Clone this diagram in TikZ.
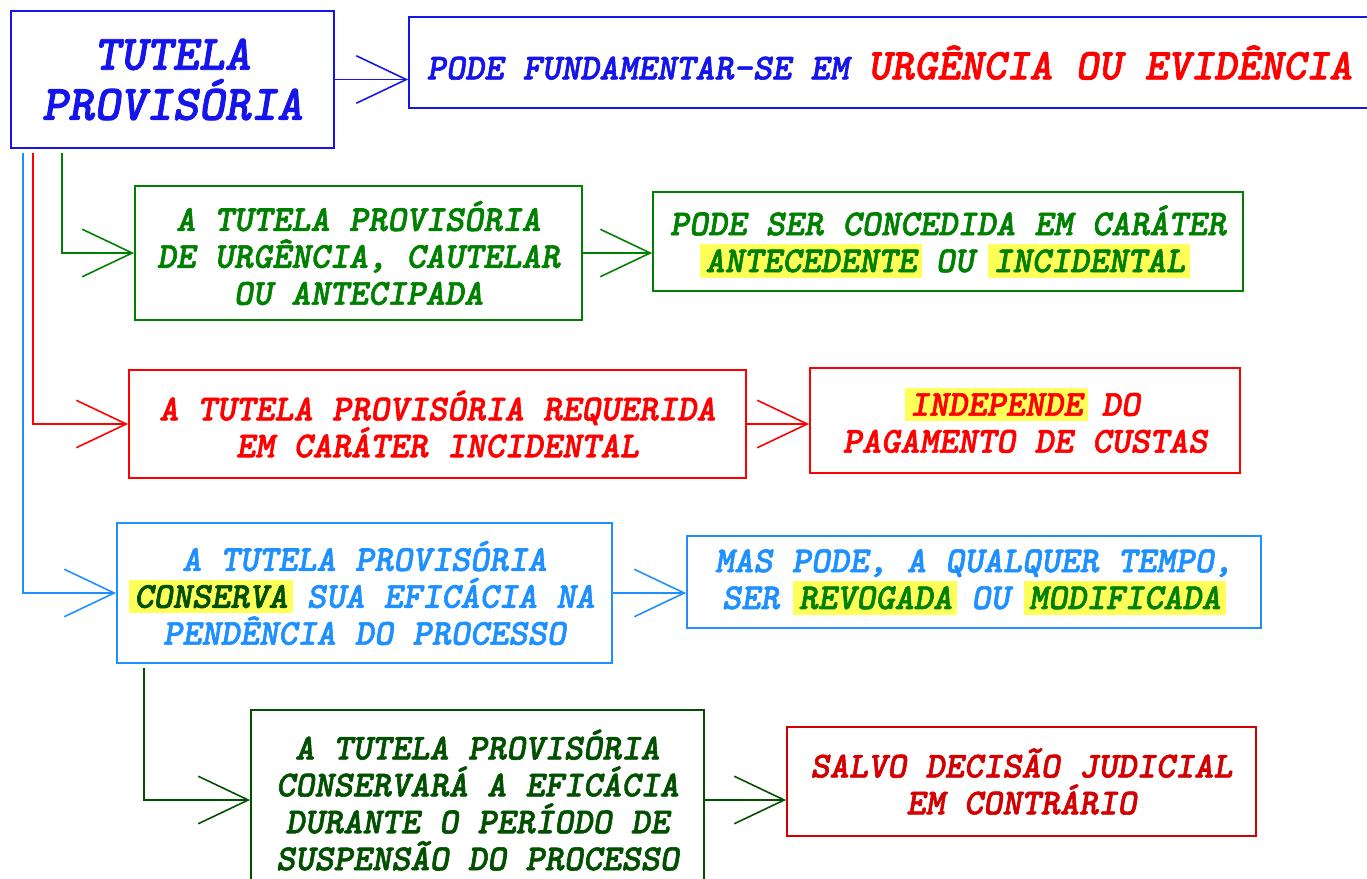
\documentclass[tikz,border=0pt]{standalone}
\usepackage{fontspec}
\usetikzlibrary{arrows.meta}
\IfFontExistsTF{lmmonolt10-boldoblique.otf}
  {\newfontfamily\mono{lmmonolt10-boldoblique.otf}[FakeBold=1.6]\newcommand{\monosz}{20.8}\newcommand{\titlesz}{28.3}\newcommand{\redsz}{25}}
  {\newfontfamily\mono{Liberation Mono}[UprightFont=* Bold Italic]\newcommand{\monosz}{18}\newcommand{\titlesz}{25}\newcommand{\redsz}{22}}
\definecolor{tblue}{RGB}{20,20,235}
\definecolor{tgreen}{RGB}{0,128,0}
\definecolor{tred}{RGB}{255,0,0}
\definecolor{lblue}{RGB}{30,144,255}
\definecolor{dgreen}{RGB}{0,80,0}
\definecolor{dred}{RGB}{210,0,0}
\definecolor{hly}{RGB}{255,255,90}
% marker highlight behind a word
\newcommand{\hlt}[2]{\hspace{-3pt}{\fboxsep=3pt\colorbox{hly}{\color{#1}#2}}\hspace{-3pt}}
\tikzset{bx/.style={draw,line width=1.1pt,align=center,inner sep=0pt,
  font=\mono\fontsize{\monosz}{21}\selectfont}}
\tikzset{con/.style={line width=0.9pt,-{Straight Barb[length=1cm,width=0.95cm]}}}

\begin{document}
\begin{tikzpicture}[x=0.02cm,y=-0.02cm]
\useasboundingbox (0,0) rectangle (1367,879);
\clip (0,0) rectangle (1367,879);

\node[bx,tblue,minimum width=6.46cm,minimum height=2.74cm,
  font=\mono\fontsize{\titlesz}{28.5}\selectfont] (title) at (172.5,79.5) {TUTELA\\PROVISÓRIA};
\node[bx,tblue,minimum width=19.22cm,minimum height=1.82cm] (top) at (889.5,62.5)
  {PODE FUNDAMENTAR-SE EM {\color{tred}\fontsize{\redsz}{28}\selectfont URGÊNCIA OU EVIDÊNCIA}};

\node[bx,tgreen,minimum width=8.94cm,minimum height=2.68cm] (urg) at (358.5,253)
  {A TUTELA PROVISÓRIA\\DE URGÊNCIA, CAUTELAR\\OU ANTECIPADA};
\node[bx,tgreen,minimum width=11.8cm,minimum height=1.98cm] (conc) at (948,241.5)
  {PODE SER CONCEDIDA EM CARÁTER\\\hlt{tgreen}{ANTECEDENTE} OU \hlt{tgreen}{INCIDENTAL}};

\node[bx,tred,minimum width=12.34cm,minimum height=2.16cm] (inc) at (437.5,424)
  {A TUTELA PROVISÓRIA REQUERIDA\\EM CARÁTER INCIDENTAL};
\node[bx,tred,minimum width=8.6cm,minimum height=2.1cm] (cust) at (1025,420.5)
  {\hlt{tred}{INDEPENDE} DO\\PAGAMENTO DE CUSTAS};

\node[bx,lblue,minimum width=9.9cm,minimum height=2.8cm] (pend) at (364.5,593)
  {A TUTELA PROVISÓRIA\\\hlt{dgreen}{CONSERVA} SUA EFICÁCIA NA\\PENDÊNCIA DO PROCESSO};
\node[bx,lblue,minimum width=11.48cm,minimum height=1.84cm] (revo) at (974,582)
  {MAS PODE, A QUALQUER TEMPO,\\SER \hlt{tgreen}{REVOGADA} OU \hlt{tgreen}{MODIFICADA}};

\node[bx,dgreen,minimum width=9.06cm,minimum height=3.6cm] (susp) at (477.5,800)
  {A TUTELA PROVISÓRIA\\CONSERVARÁ A EFICÁCIA\\DURANTE O PERÍODO DE\\SUSPENSÃO DO PROCESSO};
\node[bx,dred,minimum width=9.38cm,minimum height=2.18cm] (salvo) at (1021.5,781.5)
  {SALVO DECISÃO JUDICIAL\\EM CONTRÁRIO};

% connectors
\draw[con,tblue] (title.east) -- (title.east -| top.west);
\draw[con,tgreen] ([shift={(52,4)}]title.south west) |- (urg.west);
\draw[con,tgreen] (urg.east) -- (urg.east -| conc.west);
\draw[con,tred] ([shift={(23,4)}]title.south west) |- (inc.west);
\draw[con,tred] (inc.east) -- (inc.east -| cust.west);
\draw[con,lblue] ([shift={(13,4)}]title.south west) |- (pend.west);
\draw[con,lblue] (pend.east) -- (pend.east -| revo.west);
\draw[con,dgreen] ([shift={(28,4)}]pend.south west) |- (susp.west);
\draw[con,dgreen] (susp.east) -- (susp.east -| salvo.west);
\end{tikzpicture}
\end{document}
